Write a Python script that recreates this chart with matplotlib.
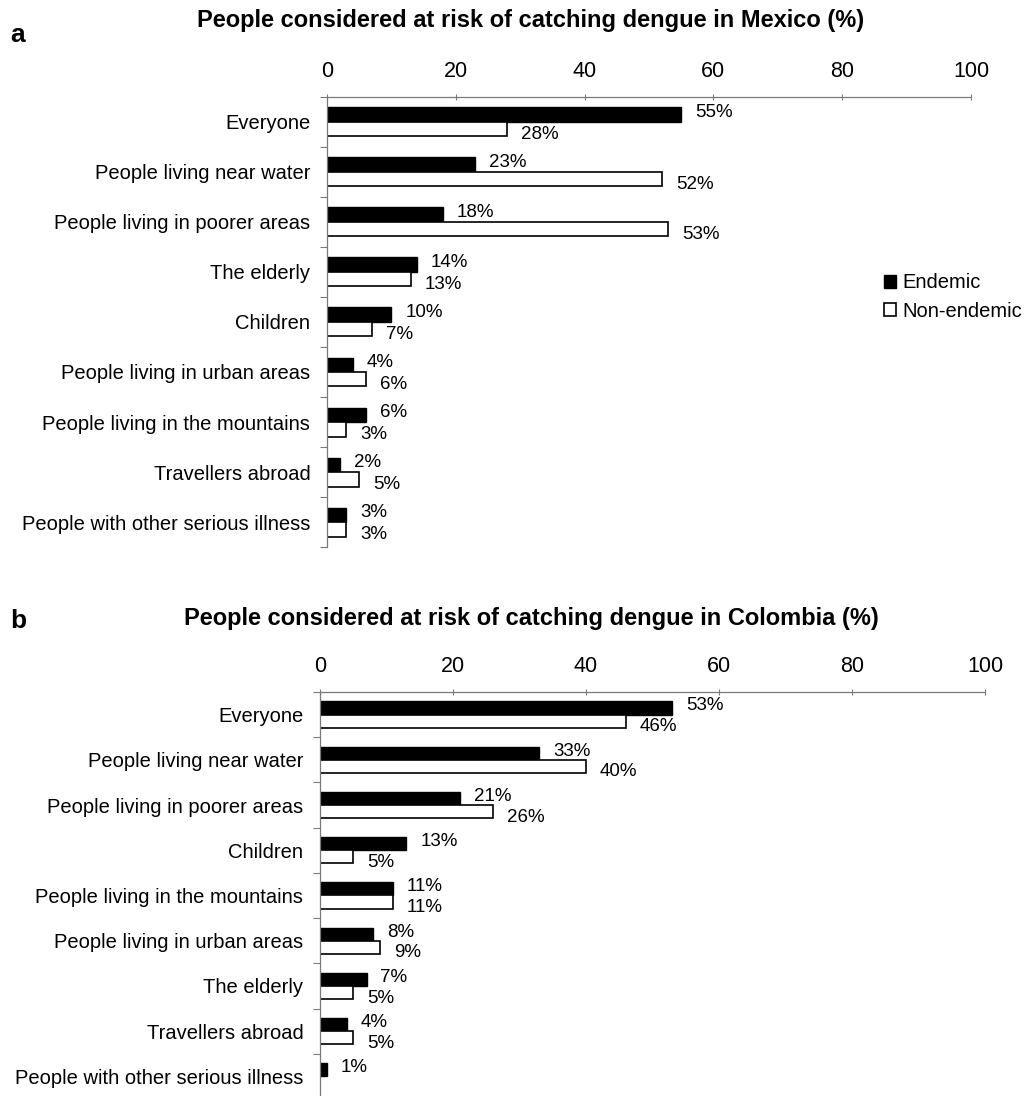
import numpy as np
import matplotlib.pyplot as plt
from matplotlib.patches import Patch

plt.rcParams['font.family'] = ['Liberation Sans', 'DejaVu Sans']

# Mexico
mx_groups = ['Everyone', 'People living near water', 'People living in poorer areas',
             'The elderly', 'Children', 'People living in urban areas',
             'People living in the mountains', 'Travellers abroad',
             'People with other serious illness']
mx_endemic = [55, 23, 18, 14, 10, 4, 6, 2, 3]
mx_non_endemic = [28, 52, 53, 13, 7, 6, 3, 5, 3]

# Colombia
co_groups = ['Everyone', 'People living near water', 'People living in poorer areas',
             'Children', 'People living in the mountains', 'People living in urban areas',
             'The elderly', 'Travellers abroad', 'People with other serious illness']
co_endemic = [53, 33, 21, 13, 11, 8, 7, 4, 1]
co_non_endemic = [46, 40, 26, 5, 11, 9, 5, 5, 0]

W, H = 1027, 1096
fig = plt.figure(figsize=(W / 100, H / 100), dpi=100)
axis_col = '#7a7a7a'


def panel(rect, groups, endemic, non_endemic, title, letter, title_y, letter_y):
    ax = fig.add_axes(rect)
    n = len(groups)
    y = np.arange(n)
    h = 0.29
    ax.barh(y - h / 2, endemic, height=h, color='black', edgecolor='black', linewidth=1)
    ax.barh(y + h / 2, non_endemic, height=h, color='white', edgecolor='black', linewidth=1.2)
    for yi, v in zip(y, endemic):
        if v:
            ax.annotate(f'{v}%', (v, yi - h / 2), xytext=(10, 1.5), textcoords='offset points',
                        va='center', ha='left', fontsize=13.5)
    for yi, v in zip(y, non_endemic):
        if v:
            ax.annotate(f'{v}%', (v, yi + h / 2), xytext=(10, -4), textcoords='offset points',
                        va='center', ha='left', fontsize=13.5)

    ax.set_xlim(0, 100)
    ax.set_ylim(n - 0.5, -0.5)
    ax.xaxis.tick_top()
    ax.set_xticks(range(0, 101, 20))
    ax.tick_params(axis='x', direction='inout', length=5, width=0.8, color=axis_col,
                   labelsize=15.5, pad=8.5)
    ax.set_yticks(y)
    ax.set_yticklabels(groups, fontsize=14.5)
    ax.set_yticks(np.arange(-0.5, n, 1.0), minor=True)
    ax.tick_params(axis='y', which='major', length=0, pad=12)
    ax.tick_params(axis='y', which='minor', length=5, width=0.8, color=axis_col, direction='out')
    for s in ['right', 'bottom']:
        ax.spines[s].set_visible(False)
    for s in ['top', 'left']:
        ax.spines[s].set_color(axis_col)
        ax.spines[s].set_linewidth(0.9)

    fig.text(531 / W, 1 - title_y / H, title, ha='center', va='center',
             fontsize=17, fontweight='bold')
    fig.text(10 / W, 1 - letter_y / H, letter, ha='left', va='center',
             fontsize=19, fontweight='bold')
    return ax


ax_a = panel([327 / W, 1 - 547 / H, 644 / W, 450 / H], mx_groups, mx_endemic, mx_non_endemic,
             'People considered at risk of catching dengue in Mexico (%)', 'a', 20, 35)
ax_b = panel([320 / W, 1 - 1099 / H, 665 / W, 407 / H], co_groups, co_endemic, co_non_endemic,
             'People considered at risk of catching dengue in Colombia (%)', 'b', 619, 621)

handles = [Patch(facecolor='black', edgecolor='black', label='Endemic'),
           Patch(facecolor='white', edgecolor='black', linewidth=1.2, label='Non-endemic')]
fig.legend(handles=handles, loc='center left', bbox_to_anchor=(884 / W, 1 - 297 / H),
           frameon=False, fontsize=14.5, handlelength=0.6, handleheight=0.6,
           handletextpad=0.3, labelspacing=0.45, borderaxespad=0, borderpad=0)

fig.savefig('out.png', dpi=100)
